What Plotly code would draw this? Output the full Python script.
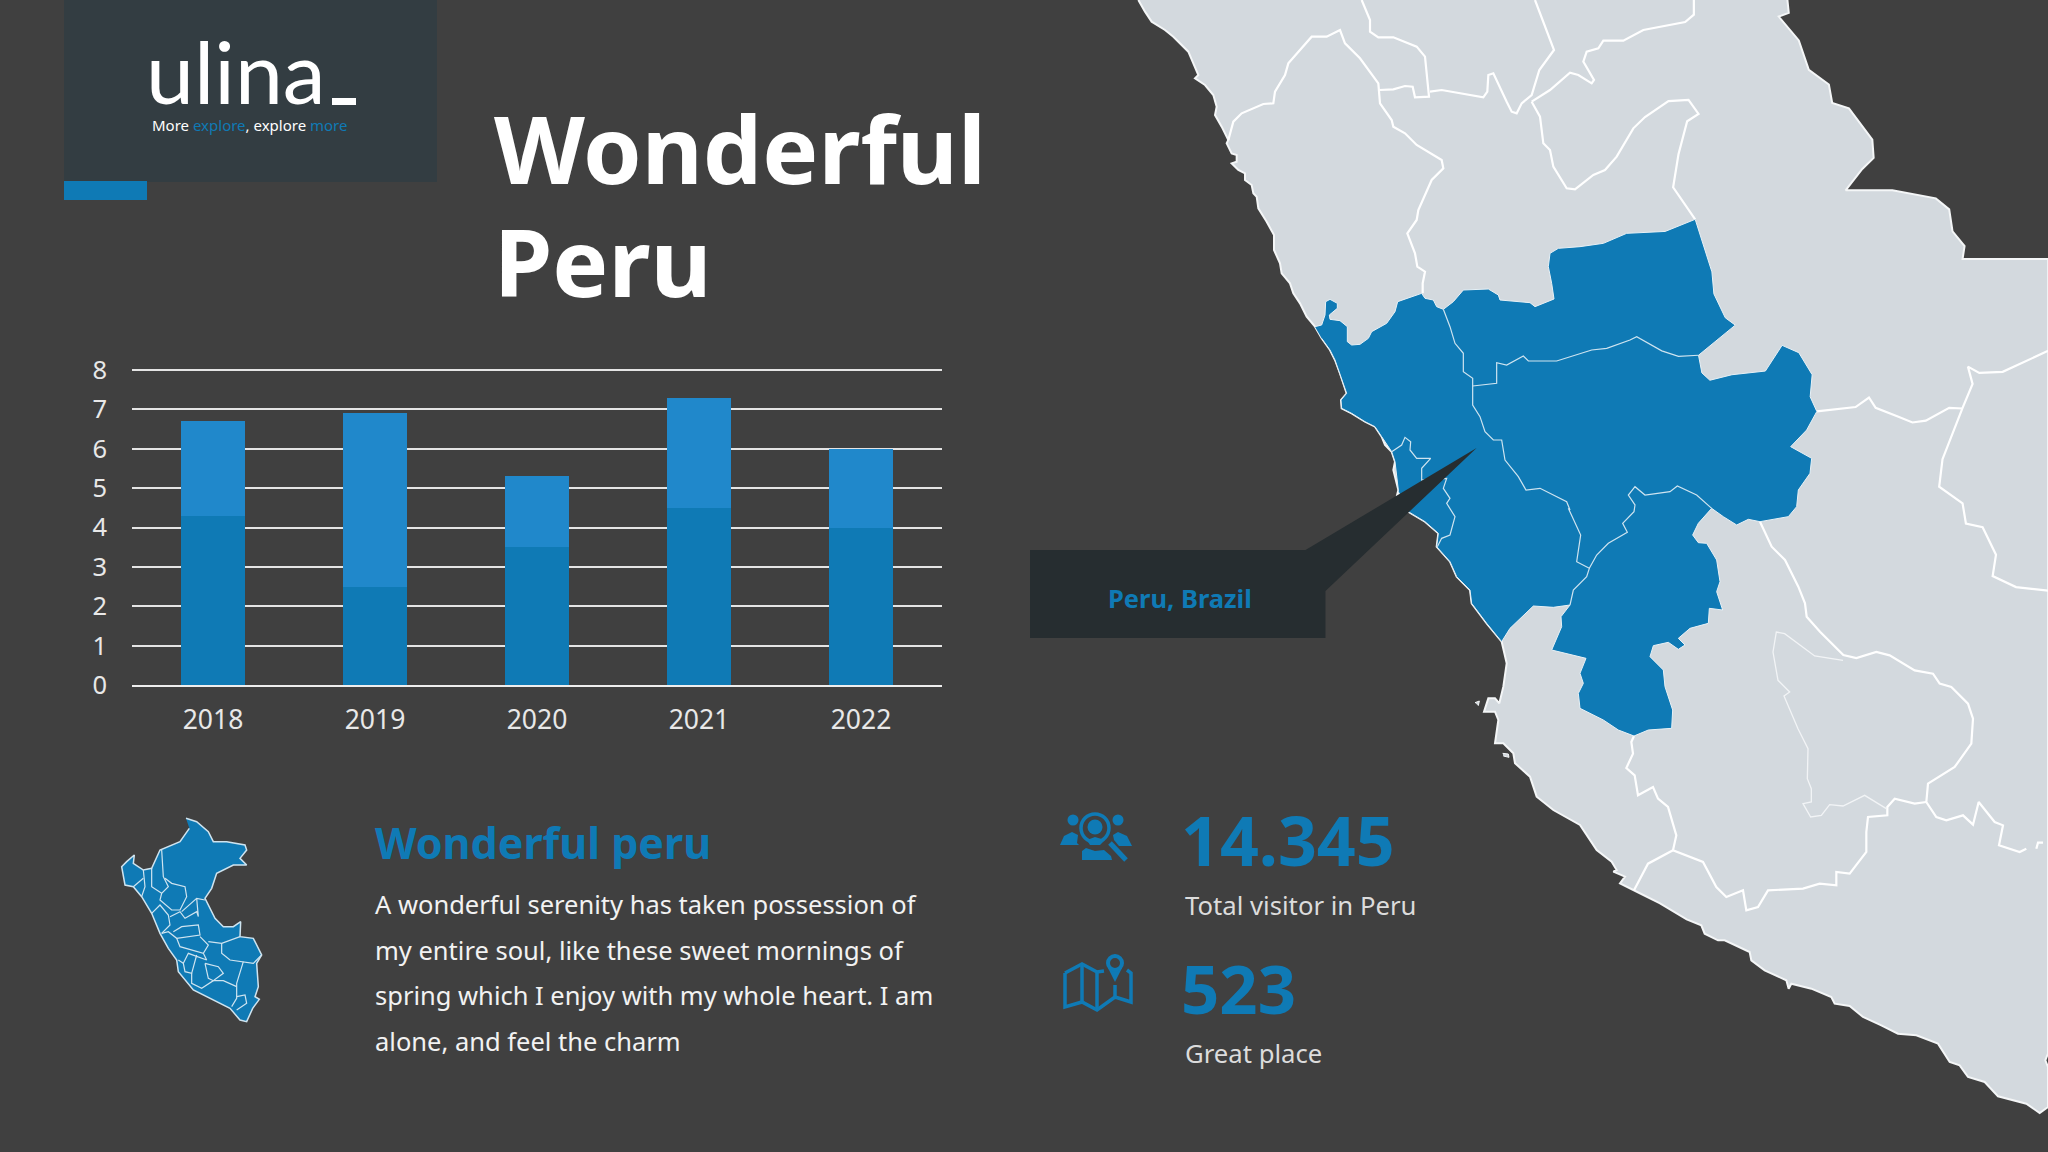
import plotly.graph_objects as go

# %% dados do grafico
anos = ['2018', '2019', '2020', '2021', '2022']
serie_baixo = [4.3, 2.5, 3.5, 4.5, 4.0]
serie_cima = [2.4, 4.4, 1.8, 2.8, 2.0]

BG = '#404040'
AZUL = '#0f7ab5'
AZUL_CLARO = '#2088cb'
CINZA = '#d3d9de'
ESCURO = '#262d30'
FONTE = 'Noto Sans'


# %% conversao dos recortes para pixels da pagina
def rec(p, ox, oy, sx=3, sy=3):
    return [(ox + x / sx, oy + y / sy) for x, y in p]


def ra(p):
    return rec(p, 1130, 0)


def rb(p):
    return rec(p, 1340, 400)


def rc(p):
    return rec(p, 1528, 632)


def big(p):
    return rec(p, 1000, 0, 1.496, 2.722)


def mini(p):
    return rec(p, 90, 790)


# %% costa
costa_a = [(25,0),(45,35),(65,65),(105,90),(130,110),(175,155),(190,190),(205,225),(195,235),(225,255),(250,285),(260,320),
           (255,345),(275,380),(295,420),(290,430),(305,460),(320,465),(320,485),(305,490),(325,510),(345,520),(345,540),
           (365,555),(370,580),(380,590),(385,625),(410,665),(432,705),(432,750),(450,790),(455,820),(480,850),(490,880),
           (510,910),(530,950),(555,980),(575,1015),(600,1050),(615,1080),(630,1120),(650,1180),(633,1200),(635,1225),
           (665,1240),(705,1265),(735,1280),(755,1310),(765,1335),(785,1355),(795,1385),(790,1410),(805,1470),(800,1490)]
costa_b = [(175,275),(205,335),(255,365),(295,400),(290,440),(330,485),(350,530),(390,570),(395,610),(440,670),(485,725),
           (500,790),(490,860),(478,910),(465,895),(445,895),(432,935),(465,935),(475,960),(465,1030),(490,1030),(520,1060),
           (525,1090),(570,1130),(590,1190),(640,1230),(720,1275),(770,1350),(815,1385),(830,1410),(820,1415),(855,1430),
           (840,1450),(880,1470),(960,1510),(1040,1558)]
costa_c = [(520,880),(530,905),(570,925),(590,925),(665,960),(670,985),(710,1015),(775,1045),(782,1070),(790,1055),(850,1070),
           (910,1095),(920,1115),(965,1122),(1005,1155),(1060,1180),(1110,1205),(1165,1210),(1230,1235),(1265,1290),(1295,1300),
           (1320,1335),(1370,1350),(1410,1393),(1495,1415),(1535,1443),(1560,1425),(1560,1305),(1552,1285),(1560,1265)]
lado_direito = [(1568,705),(1440,705),(1443,670),(1425,630),(1420,570),(1400,540),(1335,518),(1265,518),(1290,460),(1307,430),
                (1305,380),(1270,295),(1245,280),(1240,230),(1210,190),(1195,110),(1165,45),(1180,35),(1178,0)]
ilhota = [(405,908),(418,903),(415,917)]
ilhota2 = [(488,1060),(505,1062),(507,1072),(490,1068)]

# %% regiao azul
azul_norte_a = [(555,980),(575,975),(585,945),(587,905),(600,898),(622,910),(622,925),(598,945),(600,958),(630,962),(652,980),
                (652,1025),(665,1035),(690,1033),(715,1015),(725,995),(770,970),(795,935),(803,905),(875,880),(885,895),
                (910,900),(920,920),(940,928),(970,905),(1000,870),(1075,867),(1105,885),(1110,900),(1200,908),(1215,920),
                (1272,897),(1265,850),(1255,800),(1260,760),(1285,745),(1350,740),(1420,730),(1490,700)]
azul_leste = [(995,630),(1040,597),(1065,740),(1068,800),(1085,865),(1100,885),(1045,967),(1050,1015),(1062,1035),(1095,1020),
              (1145,1010),(1170,940),(1195,960),(1215,1020),(1212,1080),(1222,1120)]
azul_sul_b = [(1400,90),(1352,140),(1415,175),(1410,220),(1375,270),(1370,320),(1345,350),(1260,365),(1225,358),(1190,375),
              (1150,350),(1115,325),(1075,370),(1058,405),(1075,428),(1100,430),(1130,480),(1140,545),(1130,575),(1148,630),
              (1108,625),(1105,670),(1050,685),(1015,715),(1035,735),(1015,748),(985,727),(940,737),(930,770),(970,810),
              (975,860),(998,930),(995,985),(925,990),(882,1008),(835,990),(790,960),(720,925),(715,880),(730,850),(720,820),
              (738,775),(700,765),(635,750),(665,680),(663,650),(690,615),(640,622),(580,618),(510,685),(485,725),(440,670),
              (395,610),(390,570),(350,530),(330,485),(290,440),(295,400),(255,365),(205,335),(175,275)]
azul_costa_a = [(805,1470),(795,1385),(785,1355),(755,1310),(735,1280),(705,1265),(665,1240),(635,1225),(633,1200),(650,1180),
                (630,1120),(615,1080),(600,1050),(575,1015)]

# %% divisas dentro do azul
div1_a = [(940,928),(960,980),(975,1030),(1000,1060),(1000,1115),(1028,1135),(1028,1215),(1050,1250),(1065,1295),(1090,1320),
          (1115,1320),(1125,1380),(1165,1430),(1188,1470),(1230,1465),(1310,1505),(1320,1530)]
div1_b = [(685,325),(722,405),(710,485),(748,505),(740,530),(700,570),(690,615)]
div2_a = [(1028,1158),(1100,1150),(1100,1088),(1130,1095),(1180,1068),(1195,1083),(1280,1083),(1385,1050),(1430,1045),(1500,1020),
          (1520,1010)]
div2_big = [(990,955),(1015,970),(1045,967)]
div3_b = [(748,505),(770,465),(805,430),(862,397),(848,370),(882,335),(885,315),(865,285),(885,260),(915,285),(990,275),(1012,258),
          (1070,285),(1115,325)]
div4_b = [(155,155),(185,135),(195,112),(212,125),(210,150),(230,175),(272,175),(245,205),(245,240),(320,235),(310,265),(330,295),
          (320,310),(345,350),(330,405),(305,415),(292,440)]

# %% divisas na terra
g1_a = [(295,420),(310,365),(335,340),(400,312),(430,310),(435,275),(465,225),(475,190),(545,110),(590,110),(630,90),(645,130),
        (690,175),(745,250),(750,310),(785,360),(790,380),(825,400),(860,435),(885,450),(935,480),(940,505),(905,540),(865,630),
        (860,660),(832,700),(855,760),(862,800),(885,815),(878,850),(878,880)]
g2_a = [(695,0),(720,60),(720,95),(745,112),(790,112),(860,140),(885,170),(897,290),(855,292),(848,260),(825,258),(790,268),(748,270)]
g3_a = [(900,275),(935,270),(1060,292),(1072,275),(1075,225),(1090,220),(1130,305),(1145,335),(1160,340),(1175,310),(1205,285),
        (1228,210),(1272,150),(1215,0)]
g4_a = [(1205,305),(1260,270),(1320,218),(1345,225),(1385,250),(1392,240),(1360,185),(1370,155),(1405,145),(1420,122),(1480,122),
        (1540,90)]
g4_big = [(1025,60),(1038,40),(1038,0)]
g5_a = [(1205,305),(1230,350),(1240,430),(1260,450),(1270,500),(1310,565),(1335,568),(1390,525),(1425,510),(1460,470),(1510,385),
        (1545,351)]
g5_big = [(1000,275),(1030,272),(1045,310),(1028,330),(1015,420),(1007,510),(1040,597)]
g6_big = [(1222,1120),(1280,1108),(1300,1082),(1310,1110),(1345,1135),(1365,1150),(1385,1145),(1420,1110),(1440,1112)]
g7_big = [(1568,955),(1500,1012),(1465,1015),(1448,998),(1455,1045),(1440,1110),(1410,1250),(1405,1325),(1440,1370),
          (1445,1425),(1470,1435),(1490,1510),(1485,1568),(1520,1598),(1568,1608)]
g8_b = [(1260,365),(1295,440),(1335,480),(1375,560),(1395,610),(1400,650),(1440,695),(1510,765)]
g8_c = [(985,78),(1045,60),(1085,70),(1160,115),(1215,125),(1235,155),(1270,165),(1320,215),(1335,260),(1330,335),(1280,405),
        (1200,455),(1195,510),(1225,555),(1255,565),(1305,550),(1335,578),(1352,510),(1400,570),(1425,580),(1413,640),(1475,660),(1495,650)]
g9_c = [(945,85),(860,72),(770,5),(745,0),(735,60),(750,145),(785,180),(768,192),(810,290),(840,350),(838,440),(850,470),(850,510),
        (825,515),(848,555),(880,550),(905,518),(945,522),(1010,490),(1075,530)]
g10_c = [(1195,510),(1160,515),(1100,500),(1078,525),(1078,550),(1020,555),(1015,600),(1015,660),(965,725),(925,720),(925,760),
         (875,755),(825,770),(720,775),(690,825),(655,835),(645,775),(595,795),(565,765),(525,690),(435,655),(445,610),(420,525),
         (390,500),(375,465),(330,490),(320,430),(295,408),(315,365),(310,330),(318,312)]
g11_c = [(435,655),(360,695),(318,775)]
g12_c = [(1525,650),(1530,632),(1545,632)]

# %% mapa pequeno do Peru
mini_contorno = [(288,85),(320,95),(355,125),(370,155),(410,155),(465,165),(470,180),(450,205),(470,225),(430,225),
                 (380,250),(365,295),(345,325),(375,385),(400,410),(430,410),(452,395),(450,440),(490,445),(515,495),
                 (500,520),(505,590),(495,620),(508,628),(488,655),(470,695),(450,690),(420,655),(310,600),(265,545),
                 (260,510),(235,475),(210,430),(185,370),(155,320),(130,290),(105,285),(95,230),(110,215),(133,195),
                 (130,220),(160,240),(185,235),(210,180),(270,155),(298,115)]
mini_divisas = [
    [(215,180),(220,260),(235,290),(215,310),(210,330),(245,360),(270,360),(290,320),(285,290),(245,280),(225,265)],
    [(160,240),(165,290),(155,320)],
    [(185,235),(185,290),(215,310)],
    [(130,290),(160,265)],
    [(185,370),(210,345),(235,375),(240,405),(215,430)],
    [(275,365),(320,325),(345,330)],
    [(320,325),(325,380),(320,365),(285,385),(270,365),(240,380)],
    [(250,425),(275,410),(325,405),(330,435),(260,445),(235,425),(215,430)],
    [(260,445),(270,470),(340,490),(355,465),(330,440)],
    [(355,455),(395,460),(450,440)],
    [(395,460),(395,490),(420,510),(490,520),(515,495)],
    [(460,515),(440,580),(440,625),(425,650)],
    [(340,490),(350,510),(295,490),(280,520),(285,545),(305,550),(320,495)],
    [(345,520),(355,565),(370,572),(400,550),(385,530),(345,520)],
    [(265,510),(280,520)],
    [(305,550),(305,580),(335,595),(370,572),(400,572),(440,590)],
    [(440,620),(465,615),(470,640),(440,660)],
]

# %% balao e icones (pixels da pagina)
balao = [(1030,550),(1305.5,550),(1476.6,448),(1325.5,591),(1325.5,638),(1030,638)]

icone_corpo_esq = [(1060,845),(1064,836),(1072,832),(1078,835),(1077,843),(1079,845)]
icone_corpo_dir = [(1132,846),(1127,836),(1118,832),(1113,835),(1114,840),(1119,846)]
icone_corpo_meio = [(1087,840),(1095,837),(1105,840),(1100,845),(1090,845)]
icone_base = [(1082,851),(1086,848),(1095,851),(1104,850),(1111,856),(1112,860),(1082,860)]
icone_mapa = [(1065,973),(1082,964),(1097,972),(1104,971)]
icone_mapa2 = [(1127,970),(1131,973),(1131,1002),(1115,997),(1097,1010),(1082,1002),(1065,1007),(1065,973)]
icone_dobra1 = [(1082,964),(1082,1002)]
icone_dobra2 = [(1097,972),(1097,1010)]
icone_dobra3 = [(1115,985),(1115,997)]
icone_pino = [(1108,968),(1115,982),(1122,968)]


def xy(p):
    return [a for a, b in p], [b for a, b in p]


fig = go.Figure()


def area(p, cor, linha=None, lw=0):
    x, y = xy(p)
    fig.add_trace(go.Scatter(x=x, y=y, xaxis='x2', yaxis='y2', mode='lines', fill='toself', fillcolor=cor,
                             line=dict(color=linha or cor, width=lw), hoverinfo='skip', showlegend=False))


def traco(p, cor, lw):
    x, y = xy(p)
    fig.add_trace(go.Scatter(x=x, y=y, xaxis='x2', yaxis='y2', mode='lines',
                             line=dict(color=cor, width=lw), hoverinfo='skip', showlegend=False))


# %% mapa grande
terra = ra(costa_a) + rb(costa_b) + rc(costa_c) + big(lado_direito)
regiao_azul = ra(azul_norte_a) + big(azul_leste) + rb(azul_sul_b) + ra(azul_costa_a)
area(terra, CINZA, '#f4f6f7', 2)
area(rb(ilhota), CINZA, '#f4f6f7', 1)
area(rb(ilhota2), CINZA, '#f4f6f7', 1)

brancas = [ra(g1_a), ra(g2_a), ra(g3_a), ra(g4_a) + big(g4_big), ra(g5_a) + big(g5_big), big(g6_big), big(g7_big),
           rb(g8_b) + rc(g8_c), rc(g10_c), rc(g11_c), rc(g12_c)]
for d in brancas:
    traco(d, '#ffffff', 2.2)
traco(rc(g9_c), '#f2f4f6', 1.3)

area(regiao_azul, AZUL, '#e8f1f6', 1)
for d in [ra(div1_a) + rb(div1_b), ra(div2_a) + big(div2_big), rb(div3_b), rb(div4_b)]:
    traco(d, '#cfe4f0', 1.2)
area(balao, ESCURO)

# %% mapa pequeno
area(mini(mini_contorno), AZUL, '#cfe4f0', 1.5)
for d in mini_divisas:
    traco(mini(d), '#cfe4f0', 1.2)

# %% icones
for c in [icone_corpo_esq, icone_corpo_dir, icone_corpo_meio, icone_base, icone_pino]:
    area(c, AZUL)
for c in [icone_mapa, icone_mapa2, icone_dobra1, icone_dobra2, icone_dobra3]:
    traco(c, AZUL, 3.5)
traco([(1110,843),(1126,860)], AZUL, 5)

# %% barras
fig.add_trace(go.Bar(x=anos, y=serie_baixo, marker=dict(color=AZUL, line_width=0), showlegend=False))
fig.add_trace(go.Bar(x=anos, y=serie_cima, marker=dict(color=AZUL_CLARO, line_width=0), showlegend=False))


def retang(x0, y0, x1, y1, cor):
    fig.add_shape(type='rect', xref='x2', yref='y2', x0=x0, y0=y0, x1=x1, y1=y1, fillcolor=cor, line_width=0)


def circulo(cx, cy, r, cor=None, lw=0):
    fig.add_shape(type='circle', xref='x2', yref='y2', x0=cx - r, y0=cy - r, x1=cx + r, y1=cy + r,
                  fillcolor=cor or 'rgba(0,0,0,0)', line=dict(color=AZUL, width=lw))


retang(64, 0, 437, 182, '#333d42')
retang(64, 181, 147, 200, AZUL)
retang(332, 98, 356, 105, '#ffffff')

circulo(1095, 828, 14, None, 3.5)
circulo(1095, 827, 7.5, AZUL)
circulo(1073, 820, 5.5, AZUL)
circulo(1118, 820, 5.5, AZUL)
circulo(1115, 963, 7, None, 4)


def texto(t, x, y, tam, cor='#ffffff', negrito=False, fonte=FONTE):
    fig.add_annotation(text=t, x=x, y=y, xref='x2', yref='y2', xanchor='left', yanchor='middle', showarrow=False,
                       align='left', font=dict(family=fonte, size=tam, color=cor, weight=700 if negrito else 400))


# %% textos
texto('ulina', 144, 70, 86, fonte='Lato')
texto('_', 333, 79, 46, negrito=True, fonte='Lato')
texto('More <span style="color:#0f7ab5">explore</span>, explore <span style="color:#0f7ab5">more</span>', 150, 125, 15)
texto('Wonderful', 492, 148, 94, negrito=True)
texto('Peru', 492, 261, 94, negrito=True)
texto('Peru, Brazil', 1106, 598, 25.5, AZUL, True)
texto('Wonderful peru', 373, 842, 43, AZUL, True)
texto('A wonderful serenity has taken possession of', 373, 904, 25.5, '#f2f2f2')
texto('my entire soul, like these sweet mornings of', 373, 950, 25.5, '#f2f2f2')
texto('spring which I enjoy with my whole heart. I am', 373, 995, 25.5, '#f2f2f2')
texto('alone, and feel the charm', 373, 1041, 25.5, '#f2f2f2')
texto('14.345', 1179, 839, 68, AZUL, True)
texto('Total visitor in Peru', 1183, 905, 25.7, '#dcdcdc')
texto('523', 1179, 988, 67, AZUL, True)
texto('Great place', 1183, 1053, 25.7, '#dcdcdc')

# o topo vai um pouco alem de 8 para o plotly nao cortar a linha de grade do 8
fig.update_layout(
    width=2048, height=1152, margin=dict(l=0, r=0, t=0, b=0, pad=0), autosize=False,
    paper_bgcolor=BG, plot_bgcolor='rgba(0,0,0,0)', barmode='stack', bargap=0.605, showlegend=False,
    xaxis=dict(domain=[132 / 2048, 942 / 2048], anchor='y', type='category', showgrid=False, zeroline=False,
               showline=True, linecolor='#eeeeee', linewidth=2, ticks='', ticklabelstandoff=10, automargin=False,
               tickfont=dict(family=FONTE, size=26.5, color='#e8e8e8')),
    yaxis=dict(domain=[1 - 685 / 1152, 1 - 367.5 / 1152], anchor='x', range=[0, 8.064], tickvals=[0, 1, 2, 3, 4, 5, 6, 7, 8],
               showgrid=True, gridcolor='#e4e4e4', gridwidth=2, zeroline=False, ticks='', ticklabelstandoff=24, automargin=False,
               tickfont=dict(family=FONTE, size=25.5, color='#e8e8e8')),
    xaxis2=dict(domain=[0, 1], anchor='y2', range=[0, 2048], visible=False, fixedrange=True, automargin=False),
    yaxis2=dict(domain=[0, 1], anchor='x2', range=[1152, 0], visible=False, fixedrange=True, automargin=False),
)

fig.write_html("out.html", config={'displayModeBar': False},
               post_script="document.body.style.margin='0';document.body.style.background='#404040';document.body.style.overflow='hidden';")
